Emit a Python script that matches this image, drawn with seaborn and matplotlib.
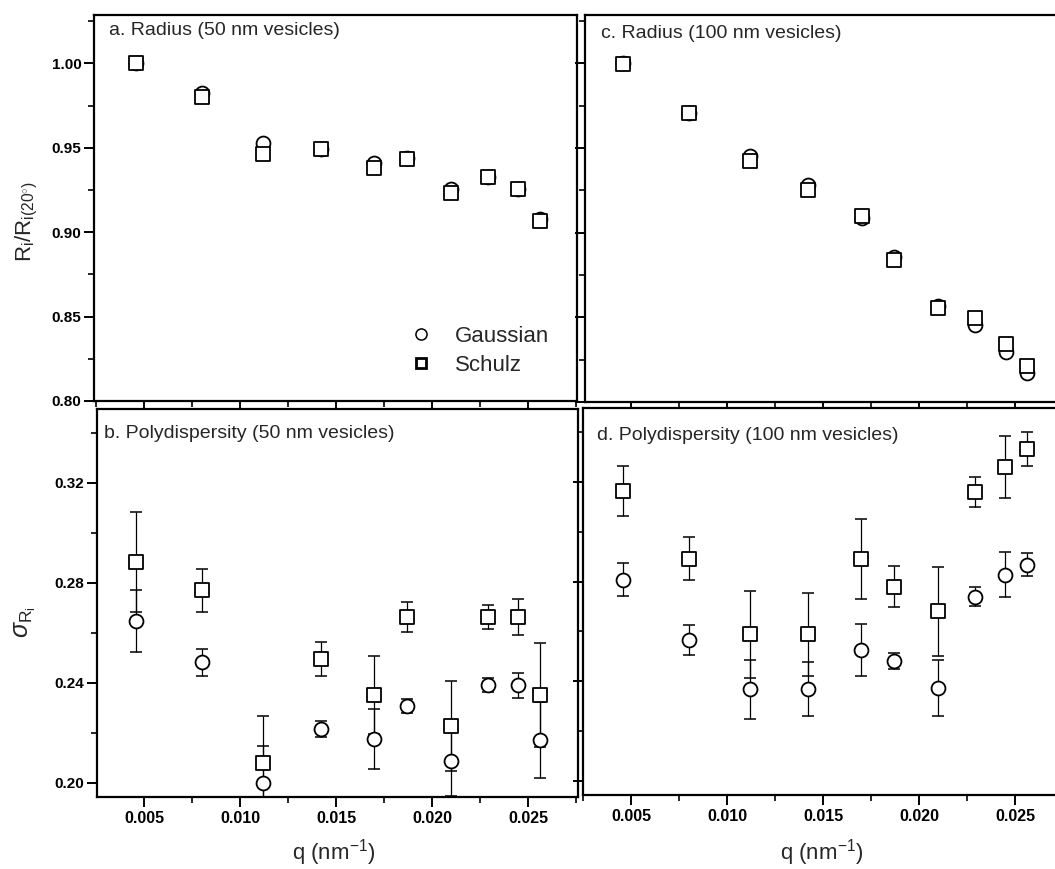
import matplotlib
matplotlib.use("Agg")
import matplotlib.pyplot as plt
from matplotlib.lines import Line2D
from matplotlib.ticker import MultipleLocator, FormatStrFormatter, NullFormatter
import numpy as np
import pandas as pd
import seaborn as sns

sns.set_theme(style="ticks")
plt.rcParams["font.family"] = ["Liberation Sans", "DejaVu Sans"]
plt.rcParams["mathtext.fontset"] = "custom"
plt.rcParams["mathtext.rm"] = "Liberation Sans"
plt.rcParams["mathtext.it"] = "Liberation Sans:italic"
plt.rcParams["mathtext.bf"] = "Liberation Sans:bold"

# scattering vector (nm^-1), shared by all four panels
q = [0.0046, 0.0080, 0.0112, 0.0142, 0.0170, 0.0187, 0.0210, 0.0229, 0.0245, 0.0256]

# a. normalised radius, 50 nm vesicles
rad50_gauss = [1.000, 0.9826, 0.9530, 0.9490, 0.9407, 0.9439, 0.9257, 0.9324, 0.9255, 0.9080]
rad50_schulz = [1.000, 0.9802, 0.9462, 0.9490, 0.9381, 0.9435, 0.9230, 0.9324, 0.9255, 0.9065]

# c. normalised radius, 100 nm vesicles
rad100_gauss = [1.000, 0.9710, 0.9453, 0.9283, 0.9085, 0.8854, 0.8567, 0.8455, 0.8294, 0.8172]
rad100_schulz = [0.9994, 0.9708, 0.9421, 0.9253, 0.9100, 0.8840, 0.8557, 0.8494, 0.8340, 0.8211]

# b. polydispersity, 50 nm vesicles
pd50_gauss = [0.2648, 0.2483, 0.2000, 0.2217, 0.2177, 0.2309, 0.2087, 0.2392, 0.2392, 0.2173]
pd50_gauss_err = [0.0124, 0.0053, 0.0147, 0.0033, 0.0119, 0.0029, 0.0140, 0.0029, 0.0050, 0.0153]
pd50_schulz = [0.2883, 0.2771, 0.2080, 0.2496, 0.2353, 0.2665, 0.2229, 0.2665, 0.2665, 0.2353]
pd50_schulz_err = [0.0200, 0.0085, 0.0187, 0.0069, 0.0157, 0.0061, 0.0181, 0.0048, 0.0072, 0.0207]

# d. polydispersity, 100 nm vesicles
pd100_gauss = [0.2808, 0.2564, 0.2368, 0.2368, 0.2524, 0.2480, 0.2372, 0.2740, 0.2828, 0.2868]
pd100_gauss_err = [0.0067, 0.0060, 0.0119, 0.0108, 0.0104, 0.0032, 0.0112, 0.0040, 0.0090, 0.0047]
pd100_schulz = [0.3164, 0.2892, 0.2588, 0.2588, 0.2892, 0.2780, 0.2680, 0.3160, 0.3260, 0.3332]
pd100_schulz_err = [0.0100, 0.0085, 0.0176, 0.0165, 0.0160, 0.0083, 0.0180, 0.0060, 0.0124, 0.0067]

W, H = 1055, 869
fig = plt.figure(figsize=(W / 100, H / 100), dpi=100)


def box(x0, ytop, x1, ybot):
    return [x0 / W, 1 - ybot / H, (x1 - x0) / W, (ybot - ytop) / H]


ax_a = fig.add_axes(box(94, 15, 577, 401))
ax_b = fig.add_axes(box(97, 409, 578, 797))
ax_c = fig.add_axes(box(585, 15, 1066, 402))
ax_d = fig.add_axes(box(583, 408, 1064, 795))

MS = 10  # marker size in points
EW = 1.3


def scatter(ax, y, marker, z):
    df = pd.DataFrame({"q": q, "y": y})
    sns.scatterplot(data=df, x="q", y="y", marker=marker, s=MS ** 2,
                    facecolor="white", edgecolor="black", linewidth=EW,
                    ax=ax, zorder=z, legend=False)


def errbars(ax, y, err):
    ax.errorbar(q, y, yerr=err, fmt="none", ecolor="black", elinewidth=0.9,
                capsize=4, capthick=1.1, zorder=2)


for ax, g, s in [(ax_a, rad50_gauss, rad50_schulz), (ax_c, rad100_gauss, rad100_schulz)]:
    scatter(ax, g, "o", 3)
    scatter(ax, s, "s", 4)

for ax, g, ge, s, se in [(ax_b, pd50_gauss, pd50_gauss_err, pd50_schulz, pd50_schulz_err),
                         (ax_d, pd100_gauss, pd100_gauss_err, pd100_schulz, pd100_schulz_err)]:
    errbars(ax, g, ge)
    errbars(ax, s, se)
    scatter(ax, g, "o", 3)
    scatter(ax, s, "s", 4)

# axis ranges
ax_a.set_xlim(0.0024, 0.02755)
ax_b.set_xlim(0.00255, 0.0276)
ax_c.set_xlim(0.0026, 0.02765)
ax_d.set_xlim(0.0025, 0.02755)
for ax in (ax_a, ax_c):
    ax.set_ylim(0.80, 1.0286)
for ax in (ax_b, ax_d):
    ax.set_ylim(0.1944, 0.3496)

for ax in (ax_a, ax_b, ax_c, ax_d):
    for sp in ax.spines.values():
        sp.set_linewidth(1.6)
        sp.set_color("black")
    ax.xaxis.set_major_locator(MultipleLocator(0.005))
    ax.xaxis.set_minor_locator(MultipleLocator(0.0025))
    ax.tick_params(which="major", direction="out", length=7, width=1.4,
                   color="black", labelcolor="black")
    ax.tick_params(which="minor", direction="out", length=4, width=1.2, color="black")
    ax.tick_params(axis="x", which="major", pad=3)
    ax.tick_params(axis="y", which="major", pad=2)
    ax.tick_params(top=False, right=False)
    ax.set_xlabel("")
    ax.set_ylabel("")
    ax.grid(False)

for ax in (ax_a, ax_c):
    ax.yaxis.set_major_locator(MultipleLocator(0.05))
    ax.yaxis.set_minor_locator(MultipleLocator(0.025))
    ax.xaxis.set_major_formatter(NullFormatter())
for ax in (ax_b, ax_d):
    ax.yaxis.set_major_locator(MultipleLocator(0.04))
    ax.yaxis.set_minor_locator(MultipleLocator(0.02))
    ax.xaxis.set_major_formatter(FormatStrFormatter("%.3f"))
ax_a.yaxis.set_major_formatter(FormatStrFormatter("%.2f"))
ax_b.yaxis.set_major_formatter(FormatStrFormatter("%.2f"))
for ax in (ax_c, ax_d):
    ax.yaxis.set_major_formatter(NullFormatter())

for ax in (ax_a, ax_b, ax_c, ax_d):
    for lab in ax.get_xticklabels():
        lab.set_fontsize(11.5)
        lab.set_fontweight("bold")
    for lab in ax.get_yticklabels():
        lab.set_fontsize(11)
        lab.set_fontweight("bold")

# panel captions
ax_a.text(0.031, 0.960, "a. Radius (50 nm vesicles)", transform=ax_a.transAxes,
          fontsize=14, va="center", ha="left")
ax_c.text(0.033, 0.952, "c. Radius (100 nm vesicles)", transform=ax_c.transAxes,
          fontsize=14, va="center", ha="left")
ax_b.text(0.015, 0.938, "b. Polydispersity (50 nm vesicles)", transform=ax_b.transAxes,
          fontsize=14, va="center", ha="left")
ax_d.text(0.029, 0.930, "d. Polydispersity (100 nm vesicles)", transform=ax_d.transAxes,
          fontsize=14, va="center", ha="left")

# axis titles
fig.text(27 / W, 1 - 221 / H, r"$\mathrm{R_i/R_{i(20^{\circ})}}$", rotation=90,
         fontsize=16, ha="center", va="center")
fig.text(25 / W, 1 - 622 / H, r"$\sigma_{\mathrm{R_i}}$", rotation=90,
         fontsize=18, ha="center", va="center")
fig.text(334 / W, 1 - 853 / H, r"q (nm$^{\mathrm{-1}}$)", fontsize=16, ha="center", va="center")
fig.text(822 / W, 1 - 853 / H, r"q (nm$^{\mathrm{-1}}$)", fontsize=16, ha="center", va="center")

# legend
handles = [
    Line2D([], [], marker="o", linestyle="none", markersize=8, markerfacecolor="white",
           markeredgecolor="black", markeredgewidth=1.1, label="Gaussian"),
    Line2D([], [], marker="s", linestyle="none", markersize=7.5, markerfacecolor="white",
           markeredgecolor="black", markeredgewidth=2.0, label="Schulz"),
]
ax_a.legend(handles=handles, loc="center left", bbox_to_anchor=(0.655, 0.13),
            frameon=False, fontsize=16, handlelength=1.0, handletextpad=1.0,
            labelspacing=0.35, borderpad=0, borderaxespad=0)

fig.savefig("out.png", dpi=100)
